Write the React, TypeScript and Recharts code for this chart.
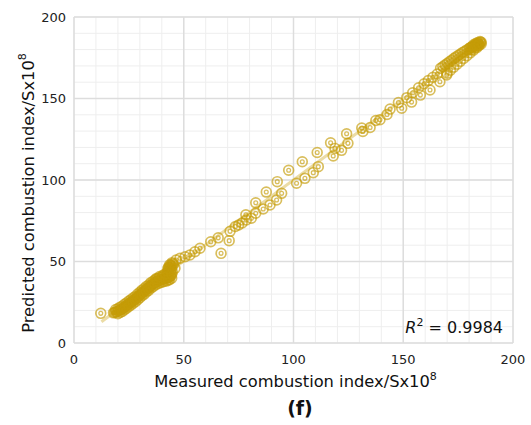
import { ScatterChart, Scatter, XAxis, YAxis, CartesianGrid, Label } from 'recharts'

const pointsLow: [number, number][] = [
  [12.2, 18.2],
  [18, 18.5], [19, 19], [20, 19.5], [21, 20.3], [22, 21], [23, 22], [24, 23], [25, 24],
  [26, 25], [27, 26], [28, 27], [29, 28.2], [30, 29.5], [31, 30.7], [32, 31.8], [33, 33],
  [34, 34], [35, 35.2], [36, 36.3], [37, 37.2], [38, 38], [39, 38.5], [40, 39], [41, 39.3],
  [42, 39.8], [43, 40.3], [44, 41], [44.2, 42.5], [43.8, 44], [43.3, 45.3], [43.5, 46.5],
  [44, 47.7], [45, 48.8],
  [18.5, 18.7], [19.5, 19.2], [20.5, 19.9], [21.5, 20.6], [22.5, 21.5], [23.5, 22.5],
  [24.5, 23.5], [25.5, 24.5], [26.5, 25.5], [27.5, 26.5], [28.5, 27.6], [29.5, 28.8],
  [30.5, 30.1], [31.5, 31.2], [32.5, 32.4], [33.5, 33.5], [34.5, 34.6], [35.5, 35.7],
  [36.5, 36.8], [37.5, 37.6], [38.5, 38.2], [39.5, 38.8], [40.5, 39.1], [41.5, 39.5],
  [42.5, 40], [43.5, 40.6],
  [19, 20.5], [21, 22], [23, 23.7], [25, 25.7], [27, 27.7], [29, 30], [31, 32.4], [33, 34.7],
  [35, 37], [37, 38.8], [39, 40], [41, 41], [42.5, 43],
  [20, 21], [22, 22.6], [24, 24.6], [26, 26.6], [28, 28.6], [30, 31.1], [32, 33.4], [34, 35.6],
  [36, 37.9], [38, 39.4], [40, 40.4], [42, 41.2],
  [20, 18], [22, 19.3], [24, 21.3], [26, 23.3], [28, 25.3], [30, 27.8], [32, 30], [34, 32.3],
  [36, 34.5], [38, 36.3], [40, 37.3], [42, 38], [43.5, 38.8], [44.5, 39.8],
  [21, 18.7], [23, 20.4], [25, 22.4], [27, 24.4], [29, 26.6], [31, 29.1], [33, 31.4], [35, 33.6],
  [37, 35.6], [39, 36.9], [41, 37.7], [43, 38.7],
  [43.5, 41.5], [44.5, 42], [44.8, 43.5], [44.3, 45], [43, 42.5], [42.8, 44], [42.8, 45.5],
  [43, 46.5], [44, 46.3], [44.5, 47.2], [43.6, 48], [45.3, 48.2], [44.7, 49.3],
  [37.5, 39.5], [39, 40.8], [40.5, 41.5], [41.5, 42.3],
]

const pointsMid: [number, number][] = [
  [46, 45.8], [46.5, 50.9], [48.3, 52], [50.6, 52.9], [52.8, 54], [55.1, 56], [57.4, 58.1],
  [62.3, 62.1], [65.7, 64.5], [67, 55], [70.7, 62.8], [71.1, 68.5], [73.5, 71.5], [75, 72.4],
  [76.6, 73.6], [78.5, 75.5], [78.3, 78.7], [80.8, 76.5], [82.8, 79.6], [82.8, 86],
  [86.2, 82.2], [87.6, 92.6], [89.3, 84.7], [92.3, 87.7], [92.6, 99], [94.6, 91.8],
  [97.8, 106], [101.4, 98], [104, 111.2], [105.2, 101], [109, 104.5], [110.8, 116.9],
  [111.3, 108.2], [116.9, 122.8], [118.1, 114.7], [118.9, 119.4], [121.9, 118.2],
  [124.2, 128.4], [124.8, 122.5], [131.1, 131.9], [131.6, 129.8], [134.9, 132.2],
  [137.5, 136.5], [139.4, 137], [142.6, 140.2], [144, 143.5], [147.8, 147.5], [149.3, 144],
  [151.6, 150.5], [153.8, 147.8], [154.3, 153.5], [157.8, 152.1], [157, 156.6], [159.5, 159],
  [162.2, 155.2], [161.4, 161], [163.5, 163], [166.7, 160.3], [165.5, 165], [169.8, 164.4],
]

const pointsHigh: [number, number][] = [
  [167, 168.5], [168, 169.5], [169, 170.5], [170, 171.5], [171, 172.5], [172, 173.5],
  [173, 174.5], [174, 175.5], [175, 176.4], [176, 177.3], [177, 178.2], [178, 179],
  [179, 179.8], [180, 180.6], [181, 181.4], [182, 182.2], [183, 183], [184, 183.7], [185, 184.4],
  [170, 165.5], [171.5, 167.3], [173, 169.2], [174.5, 171], [176, 172.8], [177.5, 174.6],
  [179, 176.3], [180.5, 178], [182, 179.6], [183.5, 181.2], [184.5, 182.5], [185.5, 183.5],
  [181.5, 181.8], [182.5, 182.3], [183.5, 182.8], [184.5, 183.5], [185.5, 184.5], [184, 184.4],
  [185, 185], [183, 183.7], [182, 183], [180.5, 181.2], [181, 180], [182.5, 181], [183.5, 182],
  [184.5, 182.9],
]

const fitLine: [number, number][] = [[12.5, 13], [185, 184.5]]

const majorTicks = [0, 50, 100, 150, 200]
const minorTicks = [0, 10, 20, 30, 40, 50, 60, 70, 80, 90, 100, 110, 120, 130, 140, 150, 160, 170, 180, 190, 200]

const FONT = '"DejaVu Sans", Arial, sans-serif'
const GOLD = '#C69C08'

const PLOT_LEFT = 74
const PLOT_RIGHT = 513
const PLOT_TOP = 17
const PLOT_BOTTOM = 343

const toXY = (pts: [number, number][]) => pts.map(([x, y]) => ({ x, y }))

function Ring(props: any) {
  const { cx, cy } = props
  if (cx == null || cy == null) return <g />
  return (
    <g>
      <circle cx={cx} cy={cy} r={4.9} fill="none" stroke={GOLD} strokeWidth={1.7} strokeOpacity={0.66} />
      <circle cx={cx} cy={cy} r={1.9} fill="none" stroke={GOLD} strokeWidth={1.3} strokeOpacity={0.66} />
    </g>
  )
}

export default function App() {
  const data = [...toXY(pointsLow), ...toXY(pointsMid), ...toXY(pointsHigh)]
  const tick = { fontSize: 13, fill: '#222', fontFamily: FONT }
  const yMid = (PLOT_TOP + PLOT_BOTTOM) / 2 + 13
  const xMid = (PLOT_LEFT + PLOT_RIGHT) / 2 + 2

  return (
    <div style={{ position: 'absolute', left: 0, top: 0, width: 531, height: 425, background: '#fff' }}>
      <ScatterChart width={531} height={425} margin={{ top: PLOT_TOP, right: 531 - PLOT_RIGHT, bottom: 0, left: 0 }}>
        <CartesianGrid horizontalValues={minorTicks} verticalValues={minorTicks} stroke="#EEEEEE" strokeWidth={1} />
        <CartesianGrid horizontalValues={majorTicks} verticalValues={majorTicks} stroke="#DDDDDD" strokeWidth={1.5} />
        <XAxis
          type="number"
          dataKey="x"
          domain={[0, 200]}
          ticks={majorTicks}
          interval={0}
          height={425 - PLOT_BOTTOM}
          axisLine={false}
          tickLine={false}
          tickMargin={6}
          tick={tick}
        >
          <Label
            content={() => (
              <text x={xMid} y={387} textAnchor="middle" fontFamily={FONT} fontSize={16.3} fill="#111">
                Measured combustion index/Sx10<tspan dy={-7} fontSize={11}>8</tspan>
              </text>
            )}
          />
          <Label
            content={() => (
              <text x={300} y={415} textAnchor="middle" fontFamily={FONT} fontSize={19} fontWeight="bold" fill="#111">
                (f)
              </text>
            )}
          />
          <Label
            content={() => (
              <text x={503} y={333} textAnchor="end" fontFamily={FONT} fontSize={16} fill="#111">
                <tspan fontStyle="italic">R</tspan>
                <tspan dy={-7} fontSize={11}>2</tspan>
                <tspan dy={7}> = 0.9984</tspan>
              </text>
            )}
          />
        </XAxis>
        <YAxis
          type="number"
          dataKey="y"
          domain={[0, 200]}
          ticks={majorTicks}
          interval={0}
          width={PLOT_LEFT}
          axisLine={false}
          tickLine={false}
          tick={tick}
        >
          <Label
            content={() => (
              <text
                x={28.5}
                y={yMid}
                transform={`rotate(-90, 28.5, ${yMid})`}
                textAnchor="middle"
                dominantBaseline="central"
                fontFamily={FONT}
                fontSize={16.3}
                fill="#111"
              >
                Predicted combustion index/Sx10<tspan dy={-7} fontSize={11}>8</tspan>
              </text>
            )}
          />
        </YAxis>
        <Scatter
          data={toXY(fitLine)}
          line={{ stroke: '#EBDCA6', strokeWidth: 3 }}
          shape={() => <g />}
          isAnimationActive={false}
          legendType="none"
        />
        <Scatter data={data} shape={Ring} isAnimationActive={false} />
      </ScatterChart>
    </div>
  )
}
